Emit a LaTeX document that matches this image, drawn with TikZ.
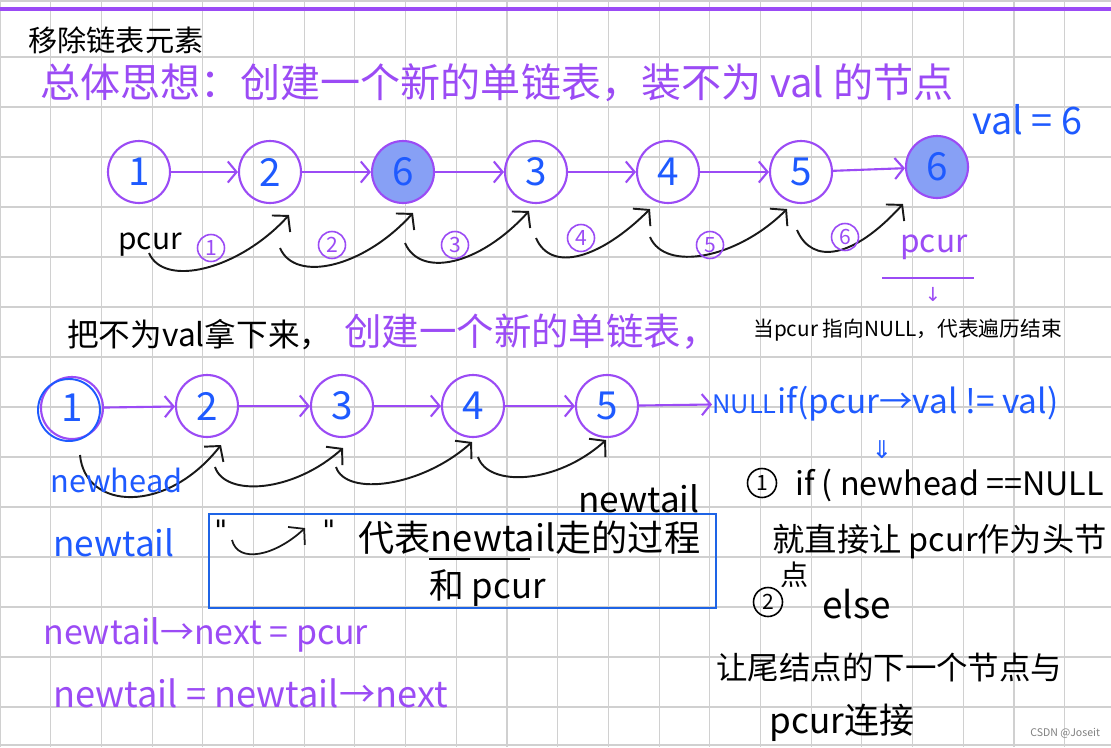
\documentclass[tikz,border=0pt]{standalone}
\usepackage{fontspec}
\setmainfont{Noto Sans CJK SC}
\newfontfamily\symfont{DejaVu Sans}
\usetikzlibrary{arrows.meta}
\definecolor{pen}{RGB}{155,75,245}
\definecolor{ink}{RGB}{30,90,255}
\definecolor{hitfill}{RGB}{135,160,245}
\definecolor{gridgray}{RGB}{208,208,208}
\definecolor{boxblue}{RGB}{30,100,230}
\tikzset{
  ring/.style={circle,draw=pen,line width=1.2pt,minimum size=1.24cm,inner sep=0pt,text=ink,font=\fontsize{22pt}{22pt}\selectfont},
  hit/.style={ring,fill=hitfill},
  link/.style={draw=pen,line width=1.2pt,-{Straight Barb[length=5pt,width=12pt]}},
  hop/.style={line width=1.1pt,black!90,-{Straight Barb[length=6pt,width=14pt]}},
  tag/.style={circle,draw=pen,line width=0.9pt,minimum size=0.54cm,inner sep=0pt,text=pen,font=\fontsize{12pt}{12pt}\selectfont},
  blacktag/.style={tag,draw=black,text=black,minimum size=0.58cm},
  hand/.style={anchor=west,inner sep=0pt,font=\fontsize{#1}{#1}\selectfont}
}

\begin{document}
\begin{tikzpicture}[x=0.02cm,y=-0.02cm]
\useasboundingbox (0,0) rectangle (1111,747);
\fill[white] (0,0) rectangle (1111,747);

% paper grid
\foreach \k in {1,...,21} \draw[gridgray,line width=0.6pt] (50.7*\k,0) -- (50.7*\k,747);
\foreach \k in {1,...,14} \draw[gridgray,line width=0.6pt] (0,7+50*\k) -- (1111,7+50*\k);
\draw[gridgray,line width=0.8pt] (0.5,0) -- (0.5,747) (0,1) -- (1111,1) (0,745) -- (1111,745);
\draw[pen,line width=1.8pt] (0,9) -- (1111,9);

% heading
\node[hand=16.6pt] (title) at (28,40) {移除链表元素};
\node[hand=22.8pt,text=pen] (idea) at (40,83) {总体思想：创建一个新的单链表，装不为 val 的节点};
\node[hand=21.5pt,text=ink] (valeq) at (972,120) {val = 6};

% old list
\node[ring] (r1) at (139,172) {1};
\node[ring] (r2) at (270,172) {2};
\node[hit]  (r3) at (403,172) {6};
\node[ring] (r4) at (536,172) {3};
\node[ring] (r5) at (668,172) {4};
\node[ring] (r6) at (801,172) {5};
\node[hit]  (r7) at (937,167) {6};
\draw[link] (r1) -- (r2);
\draw[link] (r2) -- (r3);
\draw[link] (r3) -- (r4);
\draw[link] (r4) -- (r5);
\draw[link] (r5) -- (r6);
\draw[link] (r6) -- (r7);

% pcur walking
\node[hand=17pt] (pcur) at (118,245) {pcur};
\draw[hop] ([shift={(10,81)}]r1.center) .. controls +(15,35) and +(-50,55) .. ([shift={(19,43)}]r2.center);
\draw[hop] ([shift={(10,76)}]r2.center) .. controls +(15,35) and +(-50,55) .. ([shift={(10,41)}]r3.center);
\draw[hop] ([shift={(2,71)}]r3.center) .. controls +(15,35) and +(-50,55) .. ([shift={(-7,39)}]r4.center);
\draw[hop] ([shift={(0,66)}]r4.center) .. controls +(15,35) and +(-50,50) .. ([shift={(-18,37)}]r5.center);
\draw[hop] ([shift={(-18,65)}]r5.center) .. controls +(15,35) and +(-50,50) .. ([shift={(-14,37)}]r6.center);
\draw[hop] ([shift={(-4,58)}]r6.center) .. controls +(15,35) and +(-50,55) .. ([shift={(-34,37)}]r7.center);
\node[tag] (t1) at (211,248) {1};
\node[tag] (t2) at (332,245) {2};
\node[tag] (t3) at (455,245) {3};
\node[tag] (t4) at (581,238) {4};
\node[tag] (t5) at (710,245) {5};
\node[tag] (t6) at (845,237) {6};
\node[hand=18pt,text=pen] (pend) at (900,247) {pcur};
\draw[pen,line width=1.2pt] (882,278) -- (974,278);
\node[text=pen,font=\symfont\fontsize{11pt}{11pt}\selectfont,inner sep=0pt] (pdown) at (933,294) {↓};

% second line
\node[hand=18pt] (take) at (67,335) {把不为val拿下来，};
\node[hand=21.3pt,text=pen] (make) at (344,332) {创建一个新的单链表，};
\node[hand=11.8pt] (endnote) at (753,330) {当pcur 指向NULL，代表遍历结束};

% new list
\node[ring] (s1) at (72,408) {1};
\draw[ink,line width=1.1pt] (69,410) circle[radius=31];
\node[ring] (s2) at (207,406) {2};
\node[ring] (s3) at (342,406) {3};
\node[ring] (s4) at (473,406) {4};
\node[ring] (s5) at (607,406) {5};
\node[hand=14.5pt,text=ink] (null) at (712,404) {NULL};
\node[hand=19pt,text=ink] (cond) at (777,404) {if(pcur→val != val)};
\draw[link] (s1) -- (s2);
\draw[link] (s2) -- (s3);
\draw[link] (s3) -- (s4);
\draw[link] (s4) -- (s5);
\draw[link] (s5) -- (null);
\node[text=ink,font=\symfont\fontsize{14pt}{14pt}\selectfont,inner sep=0pt] (imply) at (882,450) {⇓};

% newtail walking
\draw[hop] ([shift={(8,47)}]s1.center) .. controls +(5,55) and +(-55,70) .. ([shift={(14,39)}]s2.center);
\draw[hop] ([shift={(8,61)}]s2.center) .. controls +(10,30) and +(-50,45) .. ([shift={(1,42)}]s3.center);
\draw[hop] ([shift={(-6,61)}]s3.center) .. controls +(10,30) and +(-50,45) .. ([shift={(-1,36)}]s4.center);
\draw[hop] ([shift={(5,51)}]s4.center) .. controls +(10,30) and +(-50,45) .. ([shift={(-1,34)}]s5.center);
\node[hand=17.5pt,text=ink] (nhead) at (50,480) {newhead};
\node[hand=20pt,text=ink] (ntail) at (53,543) {newtail};
\node[hand=20pt] (ntail2) at (578,499) {newtail};

% legend box
\draw[boxblue,line width=1.3pt] (209,514) rectangle (716,608);
\node[anchor=west,inner sep=0pt,font={\symfont\fontsize{16pt}{16pt}\selectfont}] (q1) at (214,530) {"};
\draw[hop,line width=1pt] (232,540) .. controls (238,564) and (275,556) .. (305,528);
\node[anchor=west,inner sep=0pt,font={\symfont\fontsize{16pt}{16pt}\selectfont}] (q2) at (322,530) {"};
\node[hand=20.6pt] (means) at (358,538) {代表newtail走的过程};
\draw[line width=1.1pt] (429,559) -- (530,559);
\node[hand=19.8pt] (andp) at (429,588) {和 pcur};

% right notes
\node[blacktag] (c1) at (762,483) {1};
\node[hand=18.4pt] (case1) at (795,485) {if ( newhead ==NULL};
\node[hand=18.4pt] (act1) at (772,542) {就直接让 pcur作为头节};
\node[hand=16pt] (act1b) at (780,575) {点};
\node[blacktag] (c2) at (768,602) {2};
\node[hand=21pt] (case2) at (822,604) {else};
\node[hand=17.9pt] (act2) at (716,667) {让尾结点的下一个节点与};
\node[hand=20pt] (act2b) at (769,723) {pcur连接};

% bottom code
\node[hand=19.3pt,text=pen] (code1) at (43,635) {newtail→next = pcur};
\node[hand=20.6pt,text=pen] (code2) at (53,693) {newtail = newtail→next};

\node[hand=6pt,text=gray] (mark) at (1030,733) {CSDN @Joseit};
\end{tikzpicture}
\end{document}
